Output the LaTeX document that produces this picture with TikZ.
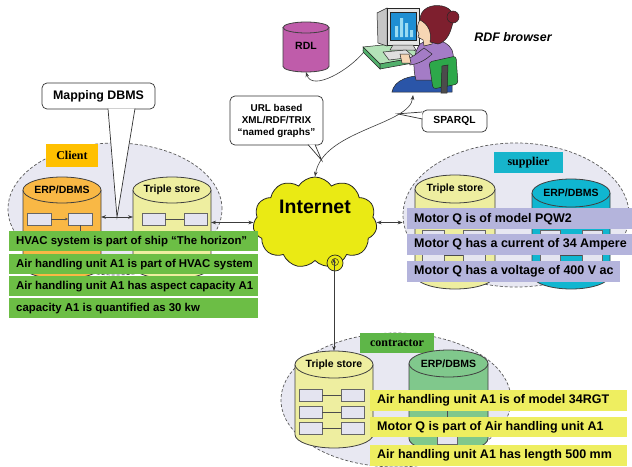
\documentclass[tikz,border=0pt]{standalone}
\usepackage{fontspec}
\setmainfont{Liberation Sans}
\newfontfamily\tagfont{Liberation Serif}
\usetikzlibrary{shapes.geometric,shapes.symbols,arrows.meta,calc}

\definecolor{zonefill}{HTML}{E8E8F2}
\definecolor{zoneline}{HTML}{5A5A5A}
\definecolor{linkgray}{HTML}{3C3C3C}
\definecolor{clientorange}{HTML}{FFC000}
\definecolor{erporange}{HTML}{F9B845}
\definecolor{storeyellow}{HTML}{EEEEA0}
\definecolor{boxlilac}{HTML}{E4E4F0}
\definecolor{factgreen}{HTML}{6CBE45}
\definecolor{netyellow}{HTML}{EAEA14}
\definecolor{suppcyan}{HTML}{17B5CC}
\definecolor{erpcyan}{HTML}{10B6D0}
\definecolor{factlilac}{HTML}{B4B4DC}
\definecolor{contrgreen}{HTML}{5EB648}
\definecolor{erpgreen}{HTML}{80C88C}
\definecolor{factyellow}{HTML}{EEEE60}
\definecolor{rdlmagenta}{HTML}{BF5CAA}
\definecolor{deskgreen}{HTML}{B4E2B8}
\definecolor{deskedge}{HTML}{52B06C}
\definecolor{screenblue}{HTML}{1E8ED2}
\definecolor{screenbar}{HTML}{9ADCF2}
\definecolor{chairgreen}{HTML}{2DA84A}
\definecolor{skirtblue}{HTML}{2A55A8}
\definecolor{shirtpurple}{HTML}{A47CC6}
\definecolor{skin}{HTML}{F6D6B4}
\definecolor{hairred}{HTML}{7E1F2E}

% cylinder: name, x, cap centre y, bottom centre y, half width, cap half height, fill, label
\newcommand{\dbcyl}[8]{%
  \filldraw[cylline,fill=#7] (#2-#5,#3) -- (#2-#5,#4)
    arc[start angle=180,end angle=0,x radius=#5,y radius=#6] -- (#2+#5,#3);
  \filldraw[cylline,fill=#7] (#2,#3) ellipse[x radius=#5,y radius=#6];
  \node[cyltext] (#1) at (#2,#3) {#8};
  \coordinate (#1-l) at (#2-#5,#3);
  \coordinate (#1-r) at (#2+#5,#3);
  \coordinate (#1-t) at (#2,#3-#6);
  \coordinate (#1-b) at (#2,#4+#6);
}
% two record boxes side by side: [link style] left x, right x, top y, width
\newcommand{\recpair}[5][]{%
  \draw[recbox] (#2,#4) rectangle ++(#5,12);
  \draw[recbox] (#3,#4) rectangle ++(#5,12);
  \draw[reclink,#1] (#2+#5,#4+6) -- (#3,#4+6);
}

\begin{document}
\begin{tikzpicture}[x=1pt,y=-1pt,
  every node/.style={font=\bfseries\fontsize{10.5}{12}\selectfont,text=black},
  zone/.style={ellipse,draw=zoneline,dash pattern=on 3pt off 2pt,fill=zonefill,inner sep=0,line width=0.7pt},
  tag/.style={font=\tagfont\bfseries\fontsize{12}{14}\selectfont,inner sep=0,minimum height=22},
  cylline/.style={draw=black!75,line width=0.8pt},
  cyltext/.style={inner sep=0},
  recbox/.style={draw=gray!80!black,fill=boxlilac,line width=0.5pt},
  reclink/.style={draw=black!70,line width=0.5pt},
  fact/.style={anchor=north west,inner sep=0,minimum height=20},
  ftext/.style={anchor=west,xshift=7pt,inner sep=0},
  gfact/.style={fact,fill=factgreen,minimum width=249,
    label={[ftext,font=\bfseries\fontsize{11.4}{13}\selectfont]west:#1}},
  pfact/.style={fact,fill=factlilac,minimum width=225,minimum height=21,
    label={[ftext,font=\bfseries\fontsize{12.5}{14}\selectfont]west:#1}},
  yfact/.style={fact,fill=factyellow,minimum width=257,minimum height=21,
    label={[ftext,font=\bfseries\fontsize{12.5}{14}\selectfont]west:#1}},
  link/.style={draw=linkgray,line width=0.6pt,<->,>={Stealth[length=5pt,width=3.6pt]}},
  callbox/.style={draw=black!80,fill=white,rounded corners=5pt,line width=0.7pt,align=center,inner sep=0},
  callptr/.style={draw=black!80,fill=white,line width=0.7pt},
  art/.style={draw=black!85,line width=0.5pt}]

  \fill[white] (0,0) rectangle (632,466);
  \useasboundingbox (0,0) rectangle (632,466);
  \coordinate (maplink) at (117,217);
  \coordinate (pcbase) at (413,95);
  \coordinate (pcdesk) at (367,48);

  % organisations
  \node[zone,minimum width=214,minimum height=132] (client) at (115,209) {};
  \node[zone,minimum width=226,minimum height=144] (supp) at (516,215) {};
  \node[zone,minimum width=230,minimum height=134] (contr) at (396,400) {};
  \node[tag,fill=clientorange,minimum width=52,minimum height=23] (clienttag) at (72,155.5) {Client};
  \node[tag,fill=suppcyan,minimum width=69,minimum height=21] (supptag) at (528.5,162.5) {supplier};
  \node[tag,fill=contrgreen,minimum width=74,minimum height=20] (contrtag) at (397,343) {contractor};

  % client
  \dbcyl{cerp}{62}{190}{266}{39}{13}{erporange}{ERP/DBMS}
  \dbcyl{cts}{172}{190}{266}{39}{13}{storeyellow}{Triple store}
  \recpair[-{Stealth[length=3pt,width=2.5pt]}]{27}{68}{213}{24}
  \draw[reclink,-{Stealth[length=3pt,width=2.5pt]}] (80,225) -- (80,236);
  \recpair{142}{184}{213}{23}
  \recpair{142}{184}{233}{23}
  \draw[link] (cerp-r |- maplink) -- (cts-l |- maplink);

  % supplier
  \dbcyl{sts}{455}{189}{275}{40}{14}{storeyellow}{Triple store}
  \dbcyl{serp}{571}{193}{275}{39}{14}{erpcyan}{ERP/DBMS}
  \recpair{422}{463}{230}{22}
  \recpair{422}{463}{249}{22}
  \recpair{540}{582}{230}{20}
  \recpair{540}{582}{249}{20}

  % contractor
  \dbcyl{kts}{334}{364.5}{434.5}{39}{13.5}{storeyellow}{Triple store}
  \dbcyl{kerp}{448.5}{363.5}{438.5}{39.5}{13.5}{erpgreen}{ERP/DBMS}
  \recpair{299}{341}{389}{23}
  \recpair{299}{341}{406}{23}
  \recpair{299}{341}{422}{23}
  \draw[recbox] (437,398) rectangle ++(20,12);
  \draw[recbox] (437,432) rectangle ++(20,12);
  \draw[reclink] (447,410) -- (447,432);

  % internet
  \node[cloud,cloud puffs=11,cloud puff arc=115,aspect=1.4,draw=black!85,line width=0.8pt,
    fill=netyellow,minimum width=124,minimum height=91,inner sep=0] (net) at (315,222.5) {};
  \node[font=\bfseries\fontsize{19.5}{22}\selectfont] (nettext) at (315,207) {Internet};
  \node[circle,draw=black!85,line width=0.7pt,fill=netyellow,minimum size=16,inner sep=0] (puff) at (335,263) {};
  \node[circle,draw=black!85,line width=0.5pt,minimum size=7,inner sep=0] (puffring) at (335,262) {};

  \draw[link] (net.west) -- (net.west -| cts-r);
  \draw[link] (net.east) -- (net.east -| supp.west);
  \draw[link] (kts-t) -- (kts-t |- puffring.north);
  \draw[link] (net.north) .. controls (323,130) and (410,125) .. (pcbase)
    coordinate[pos=0.13] (urlpt) coordinate[pos=0.75] (sparqlpt);

  % RDL and browser
  \dbcyl{rdl}{306}{27.5}{66.5}{23}{5.5}{rdlmagenta}{}
  \node (rdltext) at (306,46) {RDL};
  \draw[link] (rdl-b) .. controls (312,92) and (350,70) .. (pcdesk);
  \node[font=\bfseries\itshape\fontsize{12.4}{14}\selectfont] (rdfb) at (513,37) {RDF browser};

  % callouts
  \node[callbox,minimum width=113,minimum height=26,font=\bfseries\fontsize{12.4}{14}\selectfont] (mapbox) at (98.5,96) {Mapping DBMS};
  \filldraw[callptr] ($(mapbox.south)+(9.5,-0.8)$) -- (maplink) -- ($(mapbox.south)+(36.5,-0.8)$);
  \node[callbox,minimum width=93,minimum height=49,font=\bfseries\fontsize{9.9}{12}\selectfont] (urlbox) at (276.5,120.5) {URL based\\XML/RDF/TRIX\\“named graphs”};
  \filldraw[callptr] ($(urlbox.south)+(31.5,-0.8)$) -- (urlpt) -- ($(urlbox.south)+(38.5,-0.8)$);
  \node[callbox,minimum width=65,minimum height=22,font=\bfseries\fontsize{10.3}{12}\selectfont] (sparql) at (454.5,121) {SPARQL};
  \filldraw[callptr] ($(sparql.west)+(0.8,-9)$) -- (sparqlpt) -- ($(sparql.west)+(0.8,-2)$);

  % statements
  \node[gfact={HVAC system is part of ship “The horizon”}] (c1) at (9,231) {};
  \node[gfact={Air handling unit A1 is part of HVAC system}] (c2) at (9,254) {};
  \node[gfact={Air handling unit A1 has aspect capacity A1}] (c3) at (9,276) {};
  \node[gfact={capacity A1 is quantified as 30 kw}] (c4) at (9,298) {};
  \node[pfact={Motor Q is of model PQW2}] (s1) at (407,208) {};
  \node[pfact={Motor Q has a current of 34 Ampere}] (s2) at (407,234) {};
  \node[pfact={Motor Q has a voltage of 400 V ac},minimum width=213] (s3) at (407,261) {};
  \node[yfact={Air handling unit A1 is of model 34RGT}] (k1) at (370,390) {};
  \node[yfact={Motor Q is part of Air handling unit A1},minimum height=20] (k2) at (370,417) {};
  \node[yfact={Air handling unit A1 has length 500 mm}] (k3) at (370,445) {};

  % person at the workstation
  \filldraw[art,fill=deskgreen] (363,47) -- (402,43) -- (424,56) -- (380,64) -- cycle;
  \filldraw[art,fill=deskedge] (363,47) -- (380,64) -- (380,69) -- (363,52) -- cycle;
  \filldraw[art,fill=deskedge] (380,64) -- (424,56) -- (424,61) -- (380,69) -- cycle;
  \filldraw[art,fill=gray!45] (377,13) -- (387,8) -- (387,46) -- (378,43) -- cycle;
  \filldraw[art,fill=gray!20] (387,8) rectangle (419,45);
  \filldraw[art,fill=screenblue] (390,12) rectangle (416,40);
  \fill[screenbar] (395,26) rectangle (398,37) (400,18) rectangle (403,37)
    (405,23) rectangle (408,37) (410,30) rectangle (413,37);
  \filldraw[art,fill=gray!35] (393,45) -- (413,45) -- (416,50) -- (390,50) -- cycle;
  \filldraw[art,fill=gray!25] (383,52) -- (406,50) -- (414,57) -- (389,60) -- cycle;
  \filldraw[art,fill=skirtblue] (392,92) .. controls (394,80) and (410,74) .. (430,76) -- (452,82) -- (452,92) -- cycle;
  \filldraw[art,fill=shirtpurple] (420,44) .. controls (428,38) and (446,38) .. (452,50)
    .. controls (456,62) and (452,74) .. (446,80) -- (416,80) .. controls (412,66) and (414,52) .. (420,44) -- cycle;
  \filldraw[art,fill=chairgreen,rounded corners=3pt] (429,62) -- (456,56) -- (458,84) -- (433,89) -- cycle;
  \filldraw[art,fill=gray!60!black] (442,66) -- (448,65) -- (447,93) -- (441,93) -- cycle;
  \filldraw[art,fill=shirtpurple] (424,48) .. controls (416,54) and (412,58) .. (408,58) -- (410,65)
    .. controls (418,64) and (426,60) .. (432,54) -- cycle;
  \filldraw[art,fill=skin] (400,54) -- (409,54) -- (411,63) -- (402,63) -- cycle;
  \filldraw[art,fill=skin] (421,18) .. controls (417,24) and (416,30) .. (419,34) -- (418,37) -- (423,40)
    -- (424,46) -- (432,44) -- (432,24) -- cycle;
  \filldraw[art,fill=hairred] (420,20) .. controls (420,8) and (432,4) .. (442,6) .. controls (452,8) and (456,16) .. (452,26)
    .. controls (450,34) and (446,42) .. (438,44) -- (430,42) .. controls (432,32) and (428,24) .. (420,20) -- cycle;
  \filldraw[art,fill=hairred] (453,17) circle[radius=6];
\end{tikzpicture}
\end{document}
